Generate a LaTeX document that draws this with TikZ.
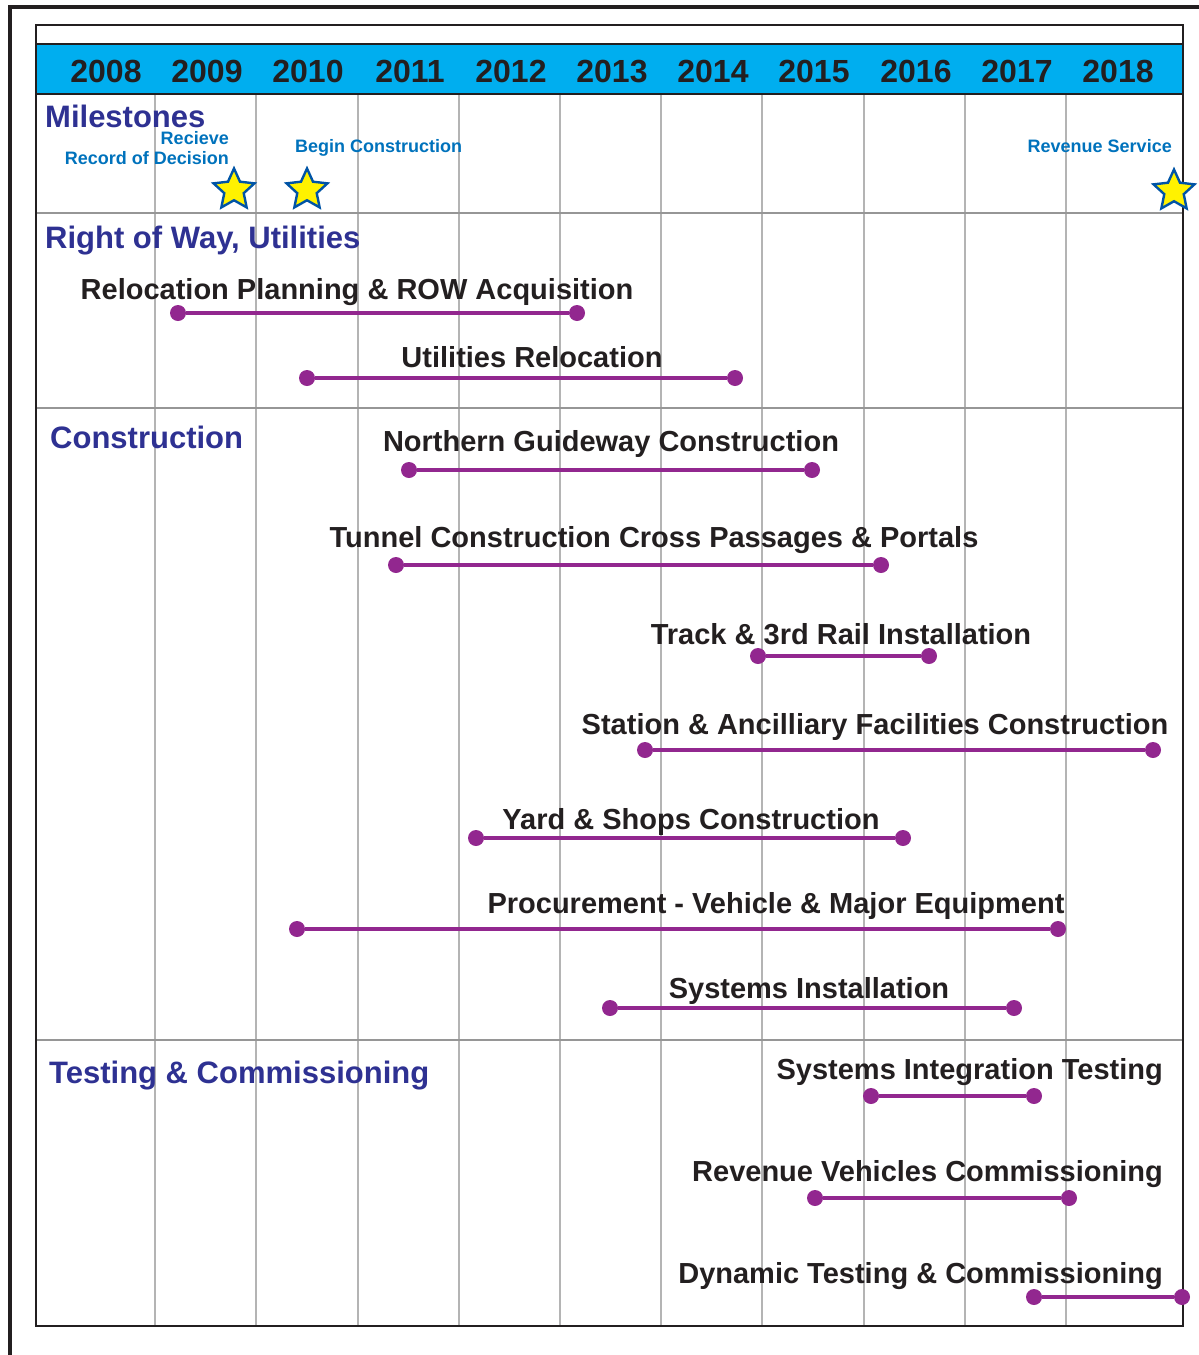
\documentclass[tikz,border=0pt]{standalone}
\usepackage{fontspec}
\setmainfont{Liberation Sans}
\usetikzlibrary{positioning, shapes.geometric}

\definecolor{headcyan}{RGB}{0,174,239}
\definecolor{titleblue}{RGB}{46,49,146}
\definecolor{mileblue}{RGB}{0,114,188}
\definecolor{barpurple}{RGB}{146,39,143}
\definecolor{ink}{RGB}{35,31,32}
\definecolor{gridgray}{RGB}{180,180,180}
\definecolor{rulegray}{RGB}{150,150,150}
\definecolor{staryellow}{RGB}{255,242,0}
\definecolor{starblue}{RGB}{0,84,166}

\begin{document}
\begin{tikzpicture}[x=1pt, y=-1pt,
    year/.style={font=\fontsize{32}{32}\selectfont\bfseries, text=ink, anchor=base, inner sep=0pt},
    section/.style={font=\fontsize{31}{31}\selectfont\bfseries, text=titleblue, anchor=base west, inner sep=0pt},
    task/.style={font=\fontsize{29}{29}\selectfont\bfseries, text=ink, anchor=base, inner sep=0pt},
    milestone/.style={font=\fontsize{18}{18}\selectfont\bfseries, text=mileblue, inner sep=0pt},
    dot/.style={circle, fill=barpurple, inner sep=0pt, minimum size=16pt},
    bar/.style={barpurple, line width=4.5pt},
    starmark/.style={star, star points=5, star point ratio=2.1, fill=staryellow, draw=starblue, line width=2.4pt, minimum size=43pt, inner sep=0pt},
    gridline/.style={gridgray, line width=1.2pt},
    rowline/.style={rulegray, line width=1.5pt}]
    \useasboundingbox (0,0) rectangle (1199,1355);

    % Outer frame (only left and top edges show)
    \draw[ink, line width=4pt] (10,1355) -- (10,7) -- (1199,7);

    % Year columns
    \draw[gridline] (155,94) -- (155,1326);
    \draw[gridline] (256,94) -- (256,1326);
    \draw[gridline] (358,94) -- (358,1326);
    \draw[gridline] (459,94) -- (459,1326);
    \draw[gridline] (560,94) -- (560,1326);
    \draw[gridline] (661,94) -- (661,1326);
    \draw[gridline] (762,94) -- (762,1326);
    \draw[gridline] (864,94) -- (864,1326);
    \draw[gridline] (965,94) -- (965,1326);
    \draw[gridline] (1066,94) -- (1066,1326);

    % Row separators
    \draw[rowline] (36,213) -- (1183,213);
    \draw[rowline] (36,408) -- (1183,408);
    \draw[rowline] (36,1040) -- (1183,1040);

    % Chart frame and header band
    \draw[ink, line width=2pt] (36,25) rectangle (1183,1326);
    \draw[ink, line width=2pt, fill=headcyan] (36,44) rectangle (1183,94);

    % Years
    \node[year] (y2008) at (106,82) {2008};
    \node[year] (y2009) at (207,82) {2009};
    \node[year] (y2010) at (308,82) {2010};
    \node[year] (y2011) at (410,82) {2011};
    \node[year] (y2012) at (511,82) {2012};
    \node[year] (y2013) at (612,82) {2013};
    \node[year] (y2014) at (713,82) {2014};
    \node[year] (y2015) at (814,82) {2015};
    \node[year] (y2016) at (916,82) {2016};
    \node[year] (y2017) at (1017,82) {2017};
    \node[year] (y2018) at (1118,82) {2018};

    % Section titles
    \node[section] (milestones) at (45,127) {Milestones};
    \node[section] (rowutil) at (45,248) {Right of Way, Utilities};
    \node[section] (construction) at (50,448) {Construction};
    \node[section] (testing) at (49,1083) {Testing \& Commissioning};

    % Milestones
    \node[milestone, anchor=base east] (rod1) at (229,144) {Recieve};
    \node[milestone, anchor=base east] (rod2) at (229,164) {Record of Decision};
    \node[milestone, anchor=base west] (begin) at (295,152) {Begin Construction};
    \node[milestone, anchor=base east] (revenue) at (1172,152) {Revenue Service};

    % Task labels
    \node[task] (relocL) at (357,299) {Relocation Planning \& ROW Acquisition};
    \node[task] (utilL) at (532,367) {Utilities Relocation};
    \node[task] (guideL) at (611,451) {Northern Guideway Construction};
    \node[task] (tunnelL) at (654,547) {Tunnel Construction Cross Passages \& Portals};
    \node[task] (trackL) at (841,644) {Track \& 3rd Rail Installation};
    \node[task] (stationL) at (875,734) {Station \& Ancilliary Facilities Construction};
    \node[task] (yardL) at (691,829) {Yard \& Shops Construction};
    \node[task] (procL) at (776,913) {Procurement - Vehicle \& Major Equipment};
    \node[task] (sysL) at (809,998) {Systems Installation};
    \node[task, anchor=base east] (sitL) at (1163,1079) {Systems Integration Testing};
    \node[task, anchor=base east] (rvcL) at (1163,1181) {Revenue Vehicles Commissioning};
    \node[task, anchor=base east] (dynL) at (1163,1283) {Dynamic Testing \& Commissioning};

    % Bar end points
    \node[dot] (relocS) at (178,313) {};
    \node[dot] (relocE) at (577,313) {};
    \node[dot] (utilS) at (307,378) {};
    \node[dot] (utilE) at (735,378) {};
    \node[dot] (guideS) at (409,470) {};
    \node[dot] (guideE) at (812,470) {};
    \node[dot] (tunnelS) at (396,565) {};
    \node[dot] (tunnelE) at (881,565) {};
    \node[dot] (trackS) at (758,656) {};
    \node[dot] (trackE) at (929,656) {};
    \node[dot] (stationS) at (645,750) {};
    \node[dot] (stationE) at (1153,750) {};
    \node[dot] (yardS) at (476,838) {};
    \node[dot] (yardE) at (903,838) {};
    \node[dot] (procS) at (297,929) {};
    \node[dot] (procE) at (1058,929) {};
    \node[dot] (sysS) at (610,1008) {};
    \node[dot] (sysE) at (1014,1008) {};
    \node[dot] (sitS) at (871,1096) {};
    \node[dot] (sitE) at (1034,1096) {};
    \node[dot] (rvcS) at (815,1198) {};
    \node[dot] (rvcE) at (1069,1198) {};
    \node[dot] (dynS) at (1034,1297) {};
    \node[dot] (dynE) at (1182,1297) {};

    % Draw bars
    \draw[bar] (relocS) -- (relocE);
    \draw[bar] (utilS) -- (utilE);
    \draw[bar] (guideS) -- (guideE);
    \draw[bar] (tunnelS) -- (tunnelE);
    \draw[bar] (trackS) -- (trackE);
    \draw[bar] (stationS) -- (stationE);
    \draw[bar] (yardS) -- (yardE);
    \draw[bar] (procS) -- (procE);
    \draw[bar] (sysS) -- (sysE);
    \draw[bar] (sitS) -- (sitE);
    \draw[bar] (rvcS) -- (rvcE);
    \draw[bar] (dynS) -- (dynE);

    % Milestone stars
    \node[starmark] (starROD) at (234,190) {};
    \node[starmark] (starBegin) at (307,190) {};
    \node[starmark] (starRev) at (1174,191) {};
\end{tikzpicture}
\end{document}
